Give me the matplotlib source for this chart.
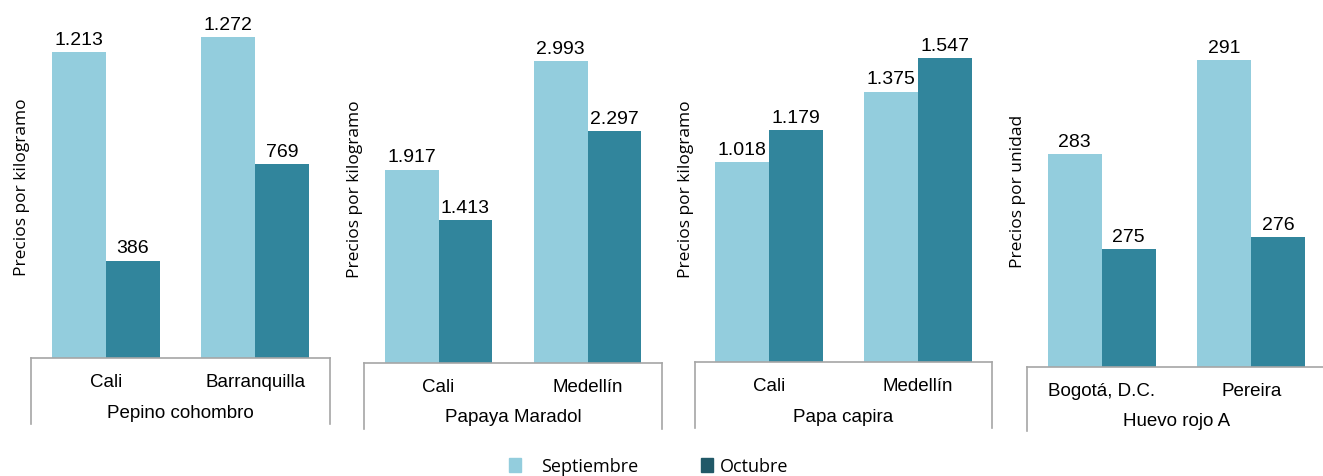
import matplotlib.pyplot as plt
import numpy as np
from matplotlib.patches import Rectangle

# data
products = ["Pepino cohombro", "Papaya Maradol", "Papa capira", "Huevo rojo A"]
cities = [["Cali", "Barranquilla"], ["Cali", "Medellín"],
          ["Cali", "Medellín"], ["Bogotá, D.C.", "Pereira"]]
septiembre = [[1213, 1272], [1917, 2993], [1018, 1375], [283, 291]]
octubre = [[386, 769], [1413, 2297], [1179, 1547], [275, 276]]
ylabels = ["Precios por kilogramo", "Precios por kilogramo",
           "Precios por kilogramo", "Precios por unidad"]
ylims = [(0, 1363), (0, 3459), (0, 1770), (265, 294.9)]
series = ["Septiembre", "Octubre"]

C_SEP = "#93CDDD"
C_OCT = "#31859C"
C_OCT_LEG = "#215968"
LINE = "#A6A6A6"

W, H = 1323, 477
fig = plt.figure(figsize=(W / 100, H / 100), dpi=100)

# axes boxes in pixels: left, right, baseline, bottom of bracket
boxes = [(31, 330, 359, 425), (364, 662, 364, 430),
         (695, 992, 363, 429), (1027, 1326, 368, 432)]
top = 15


def fmt(v):
    return f"{v:,}".replace(",", ".")


for i, (l, r, base, low) in enumerate(boxes):
    ax = fig.add_axes([l / W, 1 - base / H, (r - l) / W, (base - top) / H])
    x = np.arange(2)
    w = 0.362
    b1 = ax.bar(x - w / 2, septiembre[i], width=w, color=C_SEP, zorder=2)
    b2 = ax.bar(x + w / 2, octubre[i], width=w, color=C_OCT, zorder=2)
    for bars, vals in ((b1, septiembre[i]), (b2, octubre[i])):
        for bar, v in zip(bars, vals):
            ax.annotate(fmt(v), (bar.get_x() + bar.get_width() / 2, v),
                        xytext=(0, 3), textcoords="offset points",
                        ha="center", va="bottom", fontsize=14,
                        family="Liberation Sans", color="#000000")
    ax.set_xlim(-0.5, 1.5)
    ax.set_ylim(*ylims[i])
    ax.set_yticks([])
    ax.set_xticks(x)
    ax.set_xticklabels(cities[i], fontsize=13.5, family="Liberation Sans")
    ax.tick_params(axis="x", length=0, pad=11)
    for s in ("top", "right", "left"):
        ax.spines[s].set_visible(False)
    ax.spines["bottom"].set_color(LINE)
    ax.spines["bottom"].set_linewidth(1.2)
    depth = (low - base) / (base - top)
    for xv in (0, 1):
        ax.plot([xv, xv], [0, -depth], transform=ax.transAxes, color=LINE,
                lw=1.2, clip_on=False)
    ax.text(0.5, -54 / (base - top), products[i],
            transform=ax.transAxes, ha="center", va="center",
            fontsize=13.5, family="Liberation Sans")
    ax.set_ylabel(ylabels[i], fontsize=12.5, family="Open Sans", labelpad=1)

# legend drawn by hand so the two entries keep their own spacing
leg = [(509, 541, C_SEP), (701, 720, C_OCT_LEG)]
for (mx, tx, c), name in zip(leg, series):
    fig.patches.append(Rectangle((mx / W, 1 - 473 / H), 12 / W, 14 / H,
                                 color=c, transform=fig.transFigure))
    fig.text(tx / W, 1 - 467 / H, name, ha="left", va="center",
             fontsize=13, family="Open Sans")

fig.savefig("out.png", dpi=100)
